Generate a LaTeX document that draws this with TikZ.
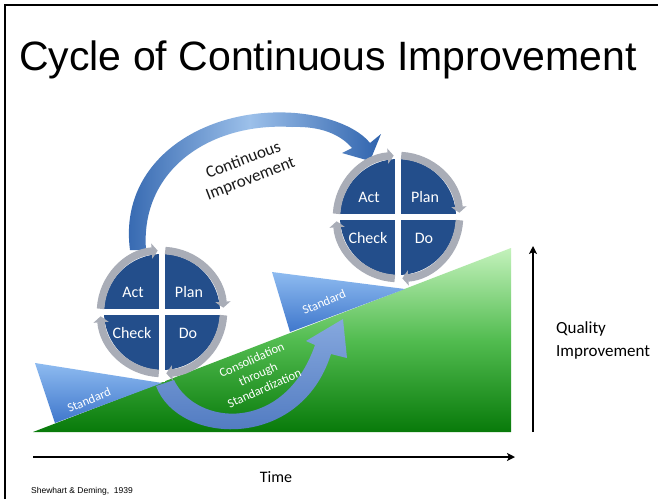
\documentclass[tikz,border=0pt]{standalone}
\usepackage{fontspec}
\setmainfont{Carlito}
\newfontfamily\arialf{Liberation Sans}
\usetikzlibrary{arrows.meta}
\definecolor{qblue}{HTML}{234E8B}
\definecolor{ringgray}{HTML}{A9ADB7}
\definecolor{greentop}{HTML}{C4F2BC}
\definecolor{greenmid}{HTML}{52BC50}
\definecolor{greenbot}{HTML}{087A0A}
\definecolor{wedgetop}{HTML}{8EBBF0}
\definecolor{wedgebot}{HTML}{3F77CC}
\definecolor{bigdark}{HTML}{2F63AD}
\definecolor{biglight}{HTML}{9CC0EA}
\definecolor{conslight}{HTML}{86A8DE}
\definecolor{consdark}{HTML}{4873BC}
\definecolor{textdark}{HTML}{1A1A1A}
\tikzset{
  ring/.style={line width=7.5pt, draw=ringgray, -{Triangle[length=6pt,width=15pt]}},
  qtext/.style={text=white, font=\fontsize{16}{16}\selectfont, inner sep=0pt},
  wtext/.style={text=white, font=\fontsize{12.5}{15.5}\selectfont, inner sep=0pt, align=center},
  axisline/.style={line width=2pt, -{Stealth[length=8pt,width=8pt,inset=2pt]}},
  pdca/.pic={
    \begin{scope}[yscale=-1]
      \fill[qblue] (0,0) circle (58);
      \fill[white] (-70,-2.6) rectangle (70,2.6);
      \fill[white] (-2.6,-70) rectangle (2.6,70);
      \foreach \s/\e in {177/94, 87/4, -3/-86, 267/184}
        \draw[ring] (\s:61.5) arc[start angle=\s, end angle=\e, radius=61.5];
      \node[qtext] (-act) at (-29,20) {Act};
      \node[qtext] (-plan) at (27,20) {Plan};
      \node[qtext] (-check) at (-30,-21) {Check};
      \node[qtext] (-do) at (26,-21) {Do};
    \end{scope}
  }
}
\begin{document}
\begin{tikzpicture}[x=1pt,y=-1pt]
\useasboundingbox (0,0) rectangle (658,499);
\fill[white] (0,0) rectangle (658,499);
% frame
\draw[line width=2pt] (5,499) -- (5,5) -- (658,5);
% title
\node[anchor=base west, font=\arialf\fontsize{41}{41}\selectfont, inner sep=0pt] (title) at (19,70) {Cycle of Continuous Improvement};
% green wedge
\shade[top color=greentop, bottom color=greenbot, middle color=greenmid] (33,432) -- (511,432) -- (511,248) -- cycle;
% standard wedges
\shade[top color=wedgetop, bottom color=wedgebot] (35,363) -- (162,383) -- (55,423) -- cycle;
\shade[top color=wedgetop, bottom color=wedgebot] (272,272) -- (405,289) -- (290,332) -- cycle;
% consolidation arrow
\shade[top color=conslight, bottom color=consdark] (156,386) .. controls (178,445) and (300,452) .. (331,354) -- (347,358) -- (343,319) -- (306,341) -- (315,345) .. controls (284,434) and (196,426) .. (174,380) -- cycle;
% continuous improvement arrow
\shade[left color=bigdark, right color=bigdark, middle color=biglight] (130,250) .. controls (118,160) and (205,106) .. (295,113) .. controls (330,116) and (358,128) .. (370,143) -- (381,134) -- (370,161) -- (342,153) -- (352,148) .. controls (340,134) and (320,126) .. (292,127) .. controls (210,122) and (140,170) .. (146,250) -- cycle;
% PDCA circles
\pic (c1) at (162,312) {pdca};
\pic (c2) at (398,217) {pdca};
% labels
\node[rotate=21, align=center, text=textdark, font=\fontsize{17}{20}\selectfont, inner sep=0pt] (ci) at (247,170) {Continuous\\Improvement};
\node[wtext, rotate=24] (cons) at (258,374) {Consolidation\\through\\Standardization};
\node[wtext, rotate=23] (std1) at (89,400) {Standard};
\node[wtext, rotate=23] (std2) at (324,302) {Standard};
% axes
\coordinate (t0) at (33,457);
\coordinate (t1) at (515,457);
\draw[axisline] (t0) -- (t1);
\coordinate (q0) at (533,432);
\coordinate (q1) at (533,246);
\draw[axisline] (q0) -- (q1);
\node[font=\fontsize{16}{16}\selectfont, inner sep=0pt] (time) at (276,477) {Time};
\node[anchor=west, align=left, font=\fontsize{17}{23}\selectfont, inner sep=0pt] (qi) at (556,340) {Quality\\Improvement};
\node[anchor=base west, font=\arialf\fontsize{8.5}{9}\selectfont, inner sep=0pt] (src) at (31,493) {Shewhart \& Deming,\ \ 1939};
\end{tikzpicture}
\end{document}
